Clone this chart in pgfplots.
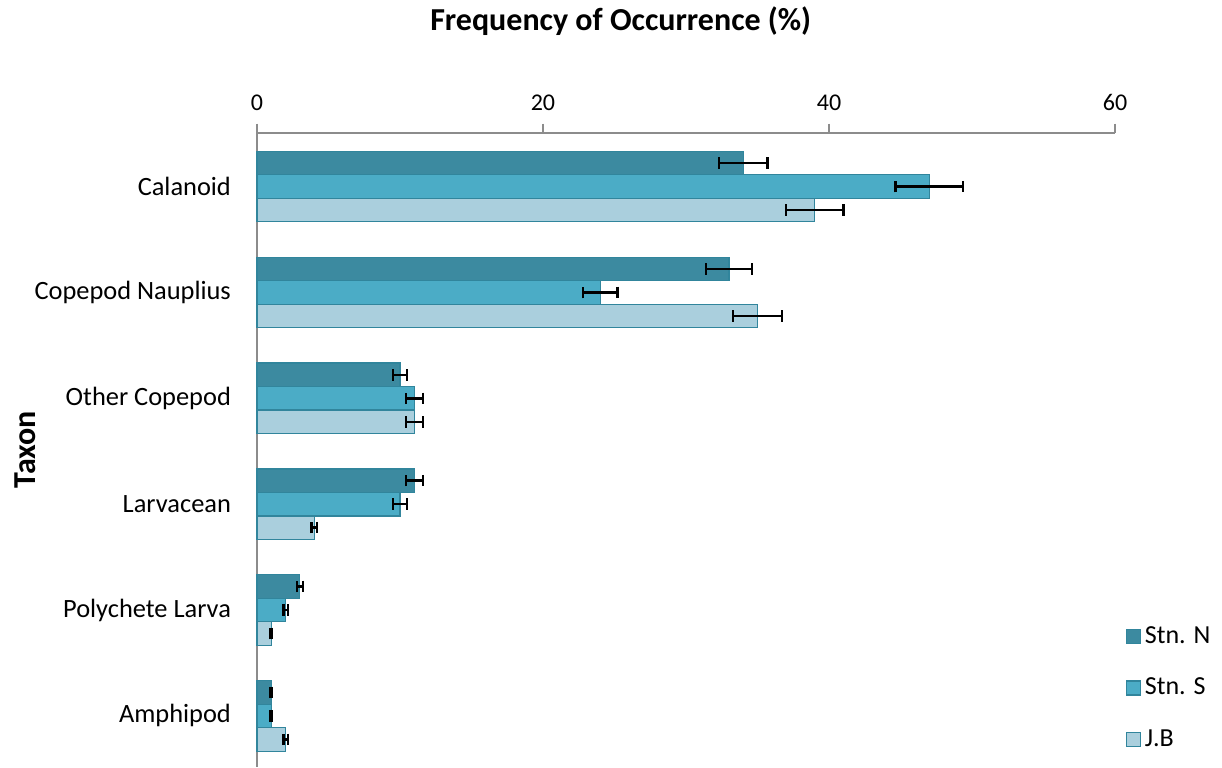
\documentclass[border=0pt]{standalone}
\usepackage{pgfplots}
\pgfplotsset{compat=1.18}
\usepackage{fontspec}
\setmainfont{Carlito}

\definecolor{stnN}{HTML}{3C8AA0}
\definecolor{stnS}{HTML}{4BACC6}
\definecolor{jb}{HTML}{AACFDD}
\definecolor{edge}{HTML}{31859C}
\definecolor{axgray}{HTML}{8C8C8C}

\begin{document}
\begin{tikzpicture}
\begin{axis}[
    xbar,
    scale only axis,
    width=429pt, height=317pt,
    xmin=0, xmax=60,
    ymin=-0.48, ymax=5.51,
    xtick={0,20,40,60},
    ytick={0,1,2,3,4,5},
    yticklabels={Amphipod, Polychete Larva, Larvacean, Other Copepod, Copepod Nauplius, Calanoid},
    axis x line*=top,
    axis y line*=left,
    axis line style={axgray, line width=0.9pt, -},
    x tick style={axgray, line width=0.9pt},
    xtick pos=top,
    major tick length=4.5pt,
    tick align=outside,
    y tick style={draw=none},
    xticklabel style={font=\fontsize{12}{14}\selectfont, yshift=3pt},
    yticklabel style={font=\fontsize{13.2}{15}\selectfont, xshift=-5pt},
    /pgf/number format/assume math mode=true,
    title={\textbf{Frequency of Occurrence (\%)}},
    title style={font=\fontsize{16}{18}\selectfont, at={(rel axis cs:0.424,1)}, anchor=base, yshift=45pt, inner sep=0pt},
    ylabel={\textbf{Taxon}},
    ylabel style={font=\fontsize{16}{18}\selectfont, at={(rel axis cs:-0.27,0.5)}, anchor=center, rotate=0, inner sep=0pt},
    bar width=11.75pt,
    legend style={draw=none, fill=none, at={(rel axis cs:1.012,0.02)}, anchor=south west,
        font=\fontsize{13}{15}\selectfont, row sep=12pt, inner sep=0pt},
    legend cell align=left,
    legend image code/.code={\draw[#1, draw=edge, line width=0.6pt] (0pt,-3.5pt) rectangle (7pt,3.5pt);},
    clip=false,
    error bars/error bar style={black, line width=1.2pt},
    error bars/error mark options={black, line width=1.2pt, mark size=2.9pt, rotate=90},
]
\addplot[fill=stnN, draw=edge, line width=0.6pt, bar shift=11.75pt,
    error bars/.cd, x dir=both, x explicit]
coordinates {(34,5) +- (1.7,0) (33,4) +- (1.6,0) (10,3) +- (0.5,0) (11,2) +- (0.6,0) (3,1) +- (0.2,0) (1,0) +- (0.05,0)};
\addlegendentry{Stn. N}
\addplot[fill=stnS, draw=edge, line width=0.6pt, bar shift=0pt,
    error bars/.cd, x dir=both, x explicit]
coordinates {(47,5) +- (2.35,0) (24,4) +- (1.2,0) (11,3) +- (0.6,0) (10,2) +- (0.5,0) (2,1) +- (0.15,0) (1,0) +- (0.05,0)};
\addlegendentry{Stn. S}
\addplot[fill=jb, draw=edge, line width=0.6pt, bar shift=-11.75pt,
    error bars/.cd, x dir=both, x explicit]
coordinates {(39,5) +- (2.0,0) (35,4) +- (1.7,0) (11,3) +- (0.6,0) (4,2) +- (0.2,0) (1,1) +- (0.05,0) (2,0) +- (0.15,0)};
\addlegendentry{J.B}
\path (rel axis cs:-0.2995,0) rectangle (rel axis cs:1.1247,1.2092);
\end{axis}
\end{tikzpicture}
\end{document}
